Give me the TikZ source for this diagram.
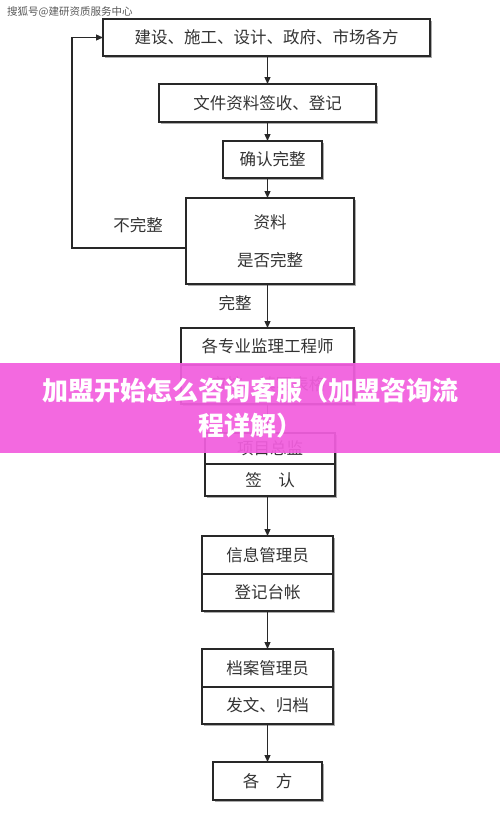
\documentclass[tikz,border=0pt]{standalone}
\usepackage{fontspec}
\newfontfamily\cjk{Noto Sans CJK SC}
\usepackage{tikz}
\usetikzlibrary{arrows.meta, positioning, shadows}
\definecolor{mydark}{RGB}{40,40,40}
\definecolor{myshade}{RGB}{150,150,150}
\definecolor{mypink}{RGB}{242,94,222}
\tikzset{
  stepbox/.style={rectangle, draw=mydark, fill=white, line width=1.1pt,
    inner sep=0pt, outer sep=0pt, align=center, text=black!80,
    font=\cjk\fontsize{16.5pt}{20pt}\selectfont,
    drop shadow={shadow xshift=2.2pt, shadow yshift=-2.2pt, fill=myshade, opacity=0.8}},
  flowarrow/.style={-{Triangle[length=7pt,width=6pt]}, line width=1.2pt, color=mydark},
  lbl/.style={font=\cjk\fontsize{16.5pt}{20pt}\selectfont, text=black!80, inner sep=0pt},
  wmark/.style={font=\cjk\fontsize{10.5pt}{12pt}\selectfont, text=black!65, inner sep=0pt},
  banner/.style={rectangle, fill=mypink, fill opacity=0.93, text opacity=1,
    text=white, minimum width=500pt, minimum height=90pt, align=center,
    font=\cjk\bfseries\fontsize{26pt}{35pt}\selectfont, inner sep=0pt}
}
\begin{document}
\begin{tikzpicture}
  \useasboundingbox (0pt,0pt) rectangle (500pt,-816pt);
  \node[wmark, anchor=west] (wm) at (7pt,-12pt) {搜狐号@建研资质服务中心};

  \node[stepbox, minimum width=327pt, minimum height=37pt] (n1) at (266.5pt,-37.5pt) {建设、施工、设计、政府、市场各方};
  \node[stepbox, minimum width=217pt, minimum height=38pt, below=28pt of n1, xshift=1pt] (n2) {文件资料签收、登记};
  \node[stepbox, minimum width=99pt, minimum height=37pt, below=19pt of n2, xshift=5pt] (n3) {确认完整};
  \node[stepbox, minimum width=168pt, minimum height=86pt, below=20pt of n3, xshift=-2.5pt] (n4) {资料\\[18pt]是否完整};
  \node[stepbox, minimum width=173pt, minimum height=37pt, below=44pt of n4, xshift=-2.5pt] (n5) {各专业监理工程师};
  \node[stepbox, minimum width=173pt, minimum height=39pt, below=0pt of n5] (n5b) {审核、填写表格};
  \node[stepbox, minimum width=130pt, minimum height=31pt, below=29pt of n5b, xshift=2.5pt] (n6) {项目总监};
  \node[stepbox, minimum width=130pt, minimum height=32pt, below=0pt of n6] (n6b) {签\quad 认};
  \node[stepbox, minimum width=131pt, minimum height=38pt, below=40pt of n6b, xshift=-2.5pt] (n7) {信息管理员};
  \node[stepbox, minimum width=131pt, minimum height=37pt, below=0pt of n7] (n7b) {登记台帐};
  \node[stepbox, minimum width=131pt, minimum height=38pt, below=38pt of n7b] (n8) {档案管理员};
  \node[stepbox, minimum width=131pt, minimum height=37pt, below=0pt of n8] (n8b) {发文、归档};
  \node[stepbox, minimum width=109pt, minimum height=38pt, below=38pt of n8b] (n9) {各\quad 方};

  \node[lbl] (nol) at ([xshift=-48pt,yshift=16pt]n4.west) {不完整};
  \node[lbl] (okl) at ([xshift=-35pt,yshift=-19pt]n4.south) {完整};

  \draw[flowarrow] (n1.south -| n2) -- (n2.north);
  \draw[flowarrow] (n2.south) -- (n2.south |- n3.north);
  \draw[flowarrow] (n3.south -| n2) -- (n4.north -| n2);
  \draw[flowarrow] (n4.south -| n2) -- (n5.north);
  \draw[flowarrow] (n5b.south) -- (n6.north -| n5b);
  \draw[flowarrow] (n6b.south -| n7) -- (n7.north);
  \draw[flowarrow] (n7b.south) -- (n8.north);
  \draw[flowarrow] (n8b.south) -- (n9.north);
  \draw[flowarrow] ([yshift=-7pt]n4.west) -| ([xshift=-31pt]n1.west) -- (n1.west);

  \node[banner] (ttl) at (250pt,-408pt) {加盟开始怎么咨询客服（加盟咨询流\\程详解）};
\end{tikzpicture}
\end{document}
